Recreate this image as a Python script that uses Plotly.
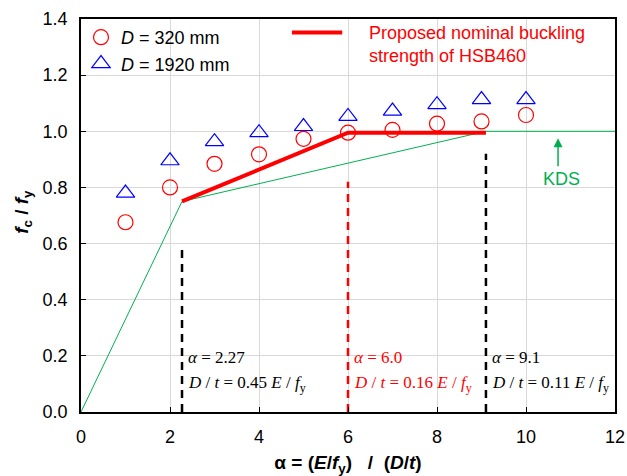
import plotly.graph_objects as go

# ---- data ----
alpha = [1, 2, 3, 4, 5, 6, 7, 8, 9, 10]
fc_d320 = [0.676, 0.80, 0.884, 0.918, 0.973, 0.995, 1.005, 1.027, 1.035, 1.058]
fc_d1920 = [0.78, 0.895, 0.963, 0.995, 1.017, 1.053, 1.072, 1.095, 1.113, 1.113]

proposed_x = [2.27, 6.0, 9.1]
proposed_y = [0.75, 0.995, 0.995]

kds_x = [0, 2.27, 9.1, 12]
kds_y = [0, 0.75, 1.0, 1.0]

limit_x = [2.27, 6.0, 9.1]
limit_top = [0.58, 0.82, 0.92]
limit_color = ["black", "red", "black"]
limit_alpha_txt = ["2.27", "6.0", "9.1"]
limit_dt_txt = ["0.45", "0.16", "0.11"]

RED = "#ff0000"
BLUE = "#0000ff"
GREEN = "#00b050"
FONT = "Liberation Sans, Arial, sans-serif"
SERIF = "Liberation Serif, Times New Roman, serif"

fig = go.Figure()

# KDS line
fig.add_trace(go.Scatter(x=kds_x, y=kds_y, mode="lines",
                         line=dict(color=GREEN, width=1), showlegend=False))

# vertical dashed limit lines
for xv, top, col in zip(limit_x, limit_top, limit_color):
    fig.add_trace(go.Scatter(x=[xv, xv], y=[0, top], mode="lines",
                             line=dict(color=col, width=2.5, dash="8px,6px"),
                             showlegend=False))

# proposed nominal buckling strength
fig.add_trace(go.Scatter(x=proposed_x, y=proposed_y, mode="lines",
                         line=dict(color=RED, width=4), showlegend=False))

fig.add_trace(go.Scatter(x=alpha, y=fc_d320, mode="markers",
                         name="<i>D</i> = 320 mm",
                         marker=dict(symbol="circle-open", size=15,
                                     color=RED, line=dict(width=1.2, color=RED))))
fig.add_trace(go.Scatter(x=alpha, y=fc_d1920, mode="markers",
                         name="<i>D</i> = 1920 mm",
                         marker=dict(symbol="triangle-up-open", size=16,
                                     color=BLUE, line=dict(width=1.2, color=BLUE))))

# annotations for limit lines
ann = []
for xv, col, a_txt, d_txt in zip(limit_x, limit_color, limit_alpha_txt, limit_dt_txt):
    ann.append(dict(x=xv, y=0.195, xref="x", yref="y", xanchor="left", yanchor="middle",
                    xshift=4, showarrow=False,
                    text=f"<i>α</i> = {a_txt}",
                    font=dict(family=SERIF, size=17, color=col)))
    ann.append(dict(x=xv, y=0.098, xref="x", yref="y", xanchor="left", yanchor="middle",
                    xshift=4, showarrow=False,
                    text=f"<i>D</i> / <i>t</i> = {d_txt} <i>E</i> / <i>f</i><sub>y</sub>",
                    font=dict(family=SERIF, size=17, color=col)))

# KDS arrow + label
ann.append(dict(x=10.72, y=0.975, ax=10.72, ay=0.87, xref="x", yref="y",
                axref="x", ayref="y", showarrow=True, arrowhead=2, arrowsize=1.2,
                arrowwidth=1.5, arrowcolor=GREEN, text=""))
ann.append(dict(x=10.8, y=0.83, xref="x", yref="y", showarrow=False, text="KDS",
                font=dict(family=FONT, size=18, color=GREEN)))

# legend for proposed line
ann.append(dict(x=0.535, y=0.995, xref="paper", yref="paper", xanchor="left", yanchor="top",
                showarrow=False, align="left",
                text="Proposed nominal buckling<br>strength of HSB460",
                font=dict(family=FONT, size=18, color=RED)))

# y-axis title
ann.append(dict(x=-0.11, y=0.51, xref="paper", yref="paper", xanchor="center",
                yanchor="middle", showarrow=False, textangle=-90,
                text="<b><i>f</i><sub>c</sub> / <i>f</i><sub>y</sub></b>",
                font=dict(family=FONT, size=19, color="black")))

shapes = [dict(type="line", xref="x", yref="y", x0=4.74, x1=5.87, y0=1.352, y1=1.352,
               line=dict(color=RED, width=4))]

fig.update_layout(
    width=627, height=476,
    margin=dict(l=81, r=12, t=19, b=64, autoexpand=False),
    paper_bgcolor="white", plot_bgcolor="white",
    font=dict(family=FONT, size=18, color="black"),
    showlegend=True,
    legend=dict(x=0.0, y=1.0, xanchor="left", yanchor="top",
                bgcolor="rgba(0,0,0,0)", font=dict(size=18),
                tracegroupgap=0, itemwidth=30),
    annotations=ann,
    shapes=shapes,
    xaxis=dict(range=[0, 12], dtick=2, tick0=0, showgrid=True, gridcolor="#d9d9d9",
               gridwidth=1, ticks="inside", ticklen=5, tickcolor="black",
               showline=True, linecolor="black", linewidth=1.5, mirror=True,
               zeroline=False, ticklabelstandoff=8, automargin=False,
               title=dict(text="<b>α = (<i>E</i>/<i>f</i><sub>y</sub>)&nbsp;&nbsp;&nbsp;/&nbsp;&nbsp;(<i>D</i>/<i>t</i>)</b>",
                          font=dict(size=19), standoff=10)),
    yaxis=dict(range=[0, 1.4], dtick=0.2, tickformat=".1f", showgrid=True,
               gridcolor="#d9d9d9", gridwidth=1, ticks="inside", ticklen=5,
               tickcolor="black", showline=True, linecolor="black", linewidth=1.5,
               mirror=True, zeroline=False, ticklabelstandoff=8, automargin=False),
)

fig.write_html("out.html")
